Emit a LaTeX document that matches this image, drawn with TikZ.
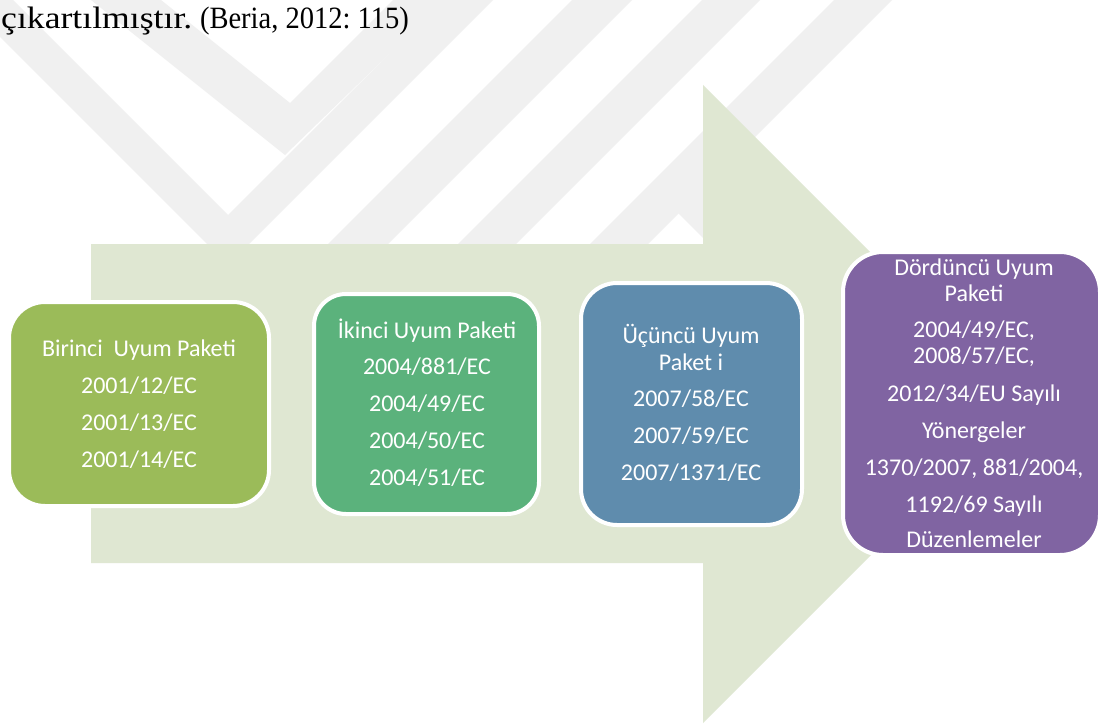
\documentclass[tikz,border=0pt]{standalone}
\usepackage{fontspec}
\usepackage{graphicx}
\newfontfamily\calfont{Carlito}
\newfontfamily\tnrfont{Liberation Serif}
\definecolor{wm}{HTML}{F0F0F0}
\definecolor{arrowc}{HTML}{DFE7D2}
\definecolor{cone}{HTML}{9BBB59}
\definecolor{ctwo}{HTML}{5BB27C}
\definecolor{cthree}{HTML}{5F8CAD}
\definecolor{cfour}{HTML}{8064A2}
\begin{document}
\begin{tikzpicture}[x=1pt,y=-1pt,
  pkgbox/.style={rectangle, draw=white, line width=4pt, inner sep=0pt, outer sep=0pt},
  lbl/.style={anchor=base, inner sep=0pt, text=white, font=\calfont\fontsize{24}{26}\selectfont},
  wmark/.style={fill=wm, draw=none}]
\useasboundingbox (0,0) rectangle (1101,725);
\fill[white] (0,0) rectangle (1101,725);
% watermark
\fill[wmark] (-37,0) -- (228,265) -- (493,0) -- (443,0) -- (228,215) -- (13,0) -- cycle;
\fill[wmark] (91,0) -- (285,155) -- (445,0) -- (393,0) -- (290,103) -- (161,0) -- cycle;
\fill[wmark] (572,0) -- (632,0) -- (388,244) -- (328,244) -- cycle;
\fill[wmark] (702,0) -- (760,0) -- (516,244) -- (458,244) -- cycle;
\fill[wmark] (834,0) -- (892,0) -- (648,244) -- (590,244) -- cycle;
\fill[wmark] (650,185) -- (707,185) -- (767,245) -- (710,245) -- cycle;
% big arrow
\fill[arrowc] (91,244) -- (703,244) -- (703,85) -- (1022,404) -- (703,723) -- (703,563) -- (91,563) -- cycle;
% caption
\node[anchor=base west, inner sep=0pt, font=\tnrfont\fontsize{31}{31}\selectfont\frenchspacing] (cap) at (1,29) {\scalebox{1.15}[1]{çıkartılmıştır.}\ \scalebox{0.92}[1]{(Beria, 2012: 115)}};
% boxes
\node[pkgbox, fill=cone, minimum width=260pt, minimum height=204pt, rounded corners=36pt] (b1) at (139,404) {};
\node[pkgbox, fill=ctwo, minimum width=225pt, minimum height=220pt, rounded corners=32pt] (b2) at (426.5,404) {};
\node[pkgbox, fill=cthree, minimum width=221pt, minimum height=242pt, rounded corners=36pt] (b3) at (691.5,404) {};
\node[pkgbox, fill=cfour, minimum width=257pt, minimum height=303pt, rounded corners=40pt] (b4) at (971.5,403.5) {};
% box 1 text
\node[lbl] (t11) at (139,356) {Birinci\ \ Uyum Paketi};
\node[lbl] (t12) at (139,393) {2001/12/EC};
\node[lbl] (t13) at (139,430) {2001/13/EC};
\node[lbl] (t14) at (139,467) {2001/14/EC};
% box 2 text
\node[lbl] (t21) at (427,338) {İkinci Uyum Paketi};
\node[lbl] (t22) at (427,374.8) {2004/881/EC};
\node[lbl] (t23) at (427,411.6) {2004/49/EC};
\node[lbl] (t24) at (427,448.4) {2004/50/EC};
\node[lbl] (t25) at (427,485.2) {2004/51/EC};
% box 3 text
\node[lbl] (t31) at (691,343.3) {Üçüncü Uyum};
\node[lbl] (t32) at (691,370) {Paket i};
\node[lbl] (t33) at (691,406.7) {2007/58/EC};
\node[lbl] (t34) at (691,443.3) {2007/59/EC};
\node[lbl] (t35) at (691,480) {2007/1371/EC};
% box 4 text
\node[lbl] (t41) at (974,275) {Dördüncü Uyum};
\node[lbl] (t42) at (974,301) {Paketi};
\node[lbl] (t43) at (974,337.5) {2004/49/EC,};
\node[lbl] (t44) at (974,363.5) {2008/57/EC,};
\node[lbl] (t45) at (974,401) {2012/34/EU Sayılı};
\node[lbl] (t46) at (974,438) {Yönergeler};
\node[lbl] (t47) at (974,475) {1370/2007, 881/2004,};
\node[lbl] (t48) at (974,512) {1192/69 Sayılı};
\node[lbl] (t49) at (974,547) {Düzenlemeler};
\end{tikzpicture}
\end{document}
